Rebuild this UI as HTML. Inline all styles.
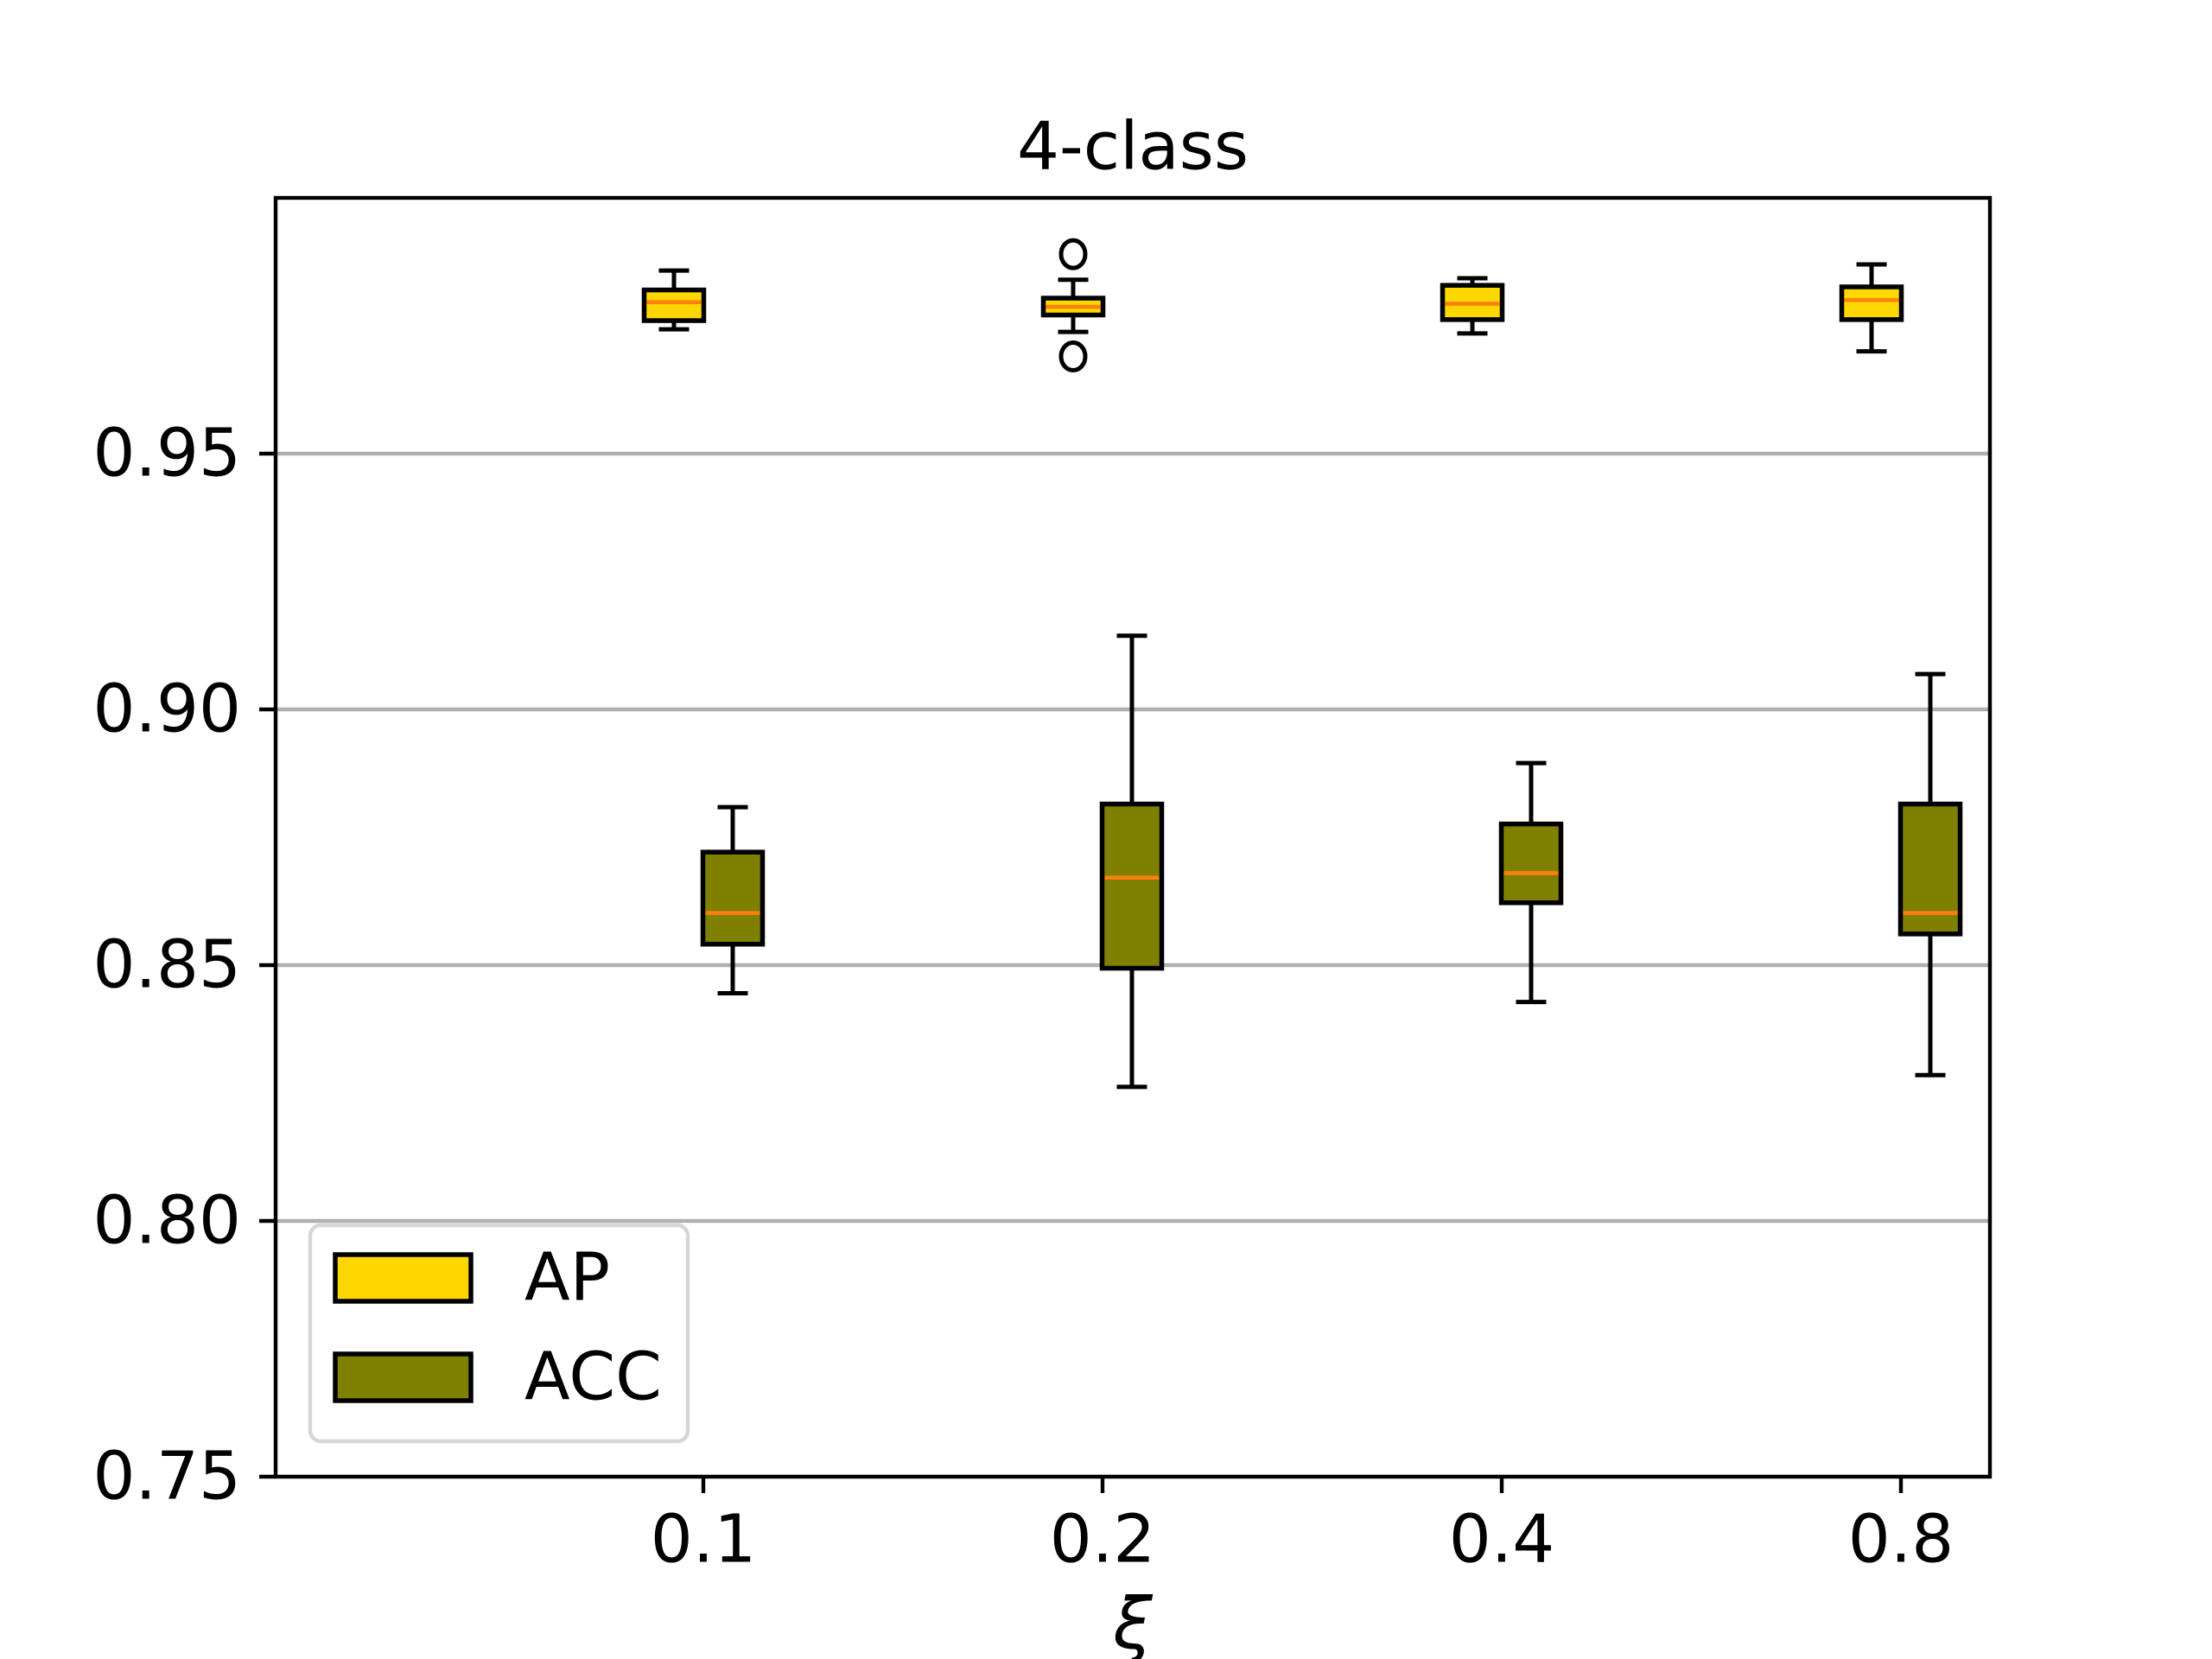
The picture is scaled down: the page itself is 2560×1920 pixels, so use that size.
<!DOCTYPE html>
<html><head><meta charset="utf-8"><style>
html,body{margin:0;padding:0;background:#fff;}
svg{display:block;font-family:"DejaVu Sans","Liberation Sans",sans-serif;}
</style></head><body>
<svg id="chart" width="2560" height="1920" viewBox="0 0 2560 1920" xmlns="http://www.w3.org/2000/svg">
<rect width="2560" height="1920" fill="#fff"/>
<text x="1311" y="170" font-size="77" text-anchor="middle" dominant-baseline="central">4-class</text>
<g id="grid"></g>
<g id="boxes"></g>
<rect x="319" y="229" width="1984" height="1480" fill="none" stroke="#000" stroke-width="4.4"/>
<g id="ticks"></g>
<text x="1311" y="1880" font-size="82" font-style="italic" text-anchor="middle" dominant-baseline="central">ξ</text>
<g>
<rect x="359" y="1418" width="437" height="250" rx="12" fill="#fff" fill-opacity="0.8" stroke="#d6d6d6" stroke-width="4.4"/>
<rect x="388" y="1452" width="157" height="54" fill="#ffd700" stroke="#000" stroke-width="5.5"/>
<text x="607" y="1479" font-size="77" dominant-baseline="central">AP</text>
<rect x="388" y="1567" width="157" height="54" fill="#808000" stroke="#000" stroke-width="5.5"/>
<text x="607" y="1594" font-size="77" dominant-baseline="central">ACC</text>
</g>
</svg>
<script>
const categories = ["0.1", "0.2", "0.4", "0.8"];
const yTicks = [0.75, 0.80, 0.85, 0.90, 0.95];
const yTickLabels = ["0.75", "0.80", "0.85", "0.90", "0.95"];
// AP: [whislo, q1, med, q3, whishi]
const apWhisLo = [0.9743, 0.9738, 0.9735, 0.9700];
const apQ1 = [0.9760, 0.9771, 0.9762, 0.9762];
const apMed = [0.9796, 0.9787, 0.9793, 0.9800];
const apQ3 = [0.9820, 0.9804, 0.9829, 0.9826];
const apWhisHi = [0.9858, 0.9840, 0.9843, 0.9870];
const apOutliers = [[], [0.989, 0.969], [], []];
const accWhisLo = [0.8445, 0.8262, 0.8428, 0.8285];
const accQ1 = [0.8541, 0.8494, 0.8622, 0.8561];
const accMed = [0.8602, 0.8671, 0.8680, 0.8602];
const accQ3 = [0.8721, 0.8815, 0.8776, 0.8815];
const accWhisHi = [0.8809, 0.9144, 0.8895, 0.9069];

const NS = "http://www.w3.org/2000/svg";
const L = 319, R = 2303, T = 229, B = 1709;
const yMin = 0.75, yMax = 1.0;
function yPos(v){ return B - (v - yMin) / (yMax - yMin) * (B - T); }
function xPos(i){ return 814 + i * 462; }
function mk(tag, attrs, parent){
  const e = document.createElementNS(NS, tag);
  for (const k in attrs) e.setAttribute(k, attrs[k]);
  parent.appendChild(e);
  return e;
}
const grid = document.getElementById('grid');
const ticks = document.getElementById('ticks');
const boxes = document.getElementById('boxes');
yTicks.forEach((v, i) => {
  const y = yPos(v);
  const g = mk('line', {x1: L, x2: R, y1: y, y2: y, stroke: '#b0b0b0', 'stroke-width': 4.4}, grid);
  
  
  const t = mk('line', {x1: L - 19, x2: L, y1: y, y2: y, stroke: '#000', 'stroke-width': 4.4}, ticks);
  
  
  const tx = mk('text', {x: L - 40, y: y, 'font-size': 77, 'text-anchor': 'end', 'dominant-baseline': 'central'}, ticks);
  tx.textContent = yTickLabels[i];
  
  
});
categories.forEach((c, i) => {
  const x = xPos(i);
  const t = mk('line', {x1: x, x2: x, y1: B, y2: B + 19, stroke: '#000', 'stroke-width': 4.4}, ticks);
  
  
  const tx = mk('text', {x: x, y: 1782, 'font-size': 77, 'text-anchor': 'middle', 'dominant-baseline': 'central'}, ticks);
  tx.textContent = c;
  
  
});
function drawBox(cx, lo, q1, med, q3, hi, fill, name, outs){
  const g = mk('g', {}, boxes);
  
  
  const w = 69, cw = 35;
  mk('line', {x1: cx, x2: cx, y1: yPos(q3), y2: yPos(hi), stroke: '#000', 'stroke-width': 5}, g);
  mk('line', {x1: cx, x2: cx, y1: yPos(q1), y2: yPos(lo), stroke: '#000', 'stroke-width': 5}, g);
  mk('line', {x1: cx - cw / 2, x2: cx + cw / 2, y1: yPos(hi), y2: yPos(hi), stroke: '#000', 'stroke-width': 5}, g);
  mk('line', {x1: cx - cw / 2, x2: cx + cw / 2, y1: yPos(lo), y2: yPos(lo), stroke: '#000', 'stroke-width': 5}, g);
  mk('rect', {x: cx - w / 2, y: yPos(q3), width: w, height: yPos(q1) - yPos(q3), fill: fill, stroke: '#000', 'stroke-width': 5.5}, g);
  mk('line', {x1: cx - w / 2 + 3, x2: cx + w / 2 - 3, y1: yPos(med), y2: yPos(med), stroke: '#ff7f0e', 'stroke-width': 4.5}, g);
  outs.forEach(o => {
    const c = mk('ellipse', {cx: cx, cy: yPos(o), rx: 14, ry: 16, fill: 'none', stroke: '#000', 'stroke-width': 5}, g);
    
    
  });
}
categories.forEach((c, i) => {
  drawBox(xPos(i) - 34, apWhisLo[i], apQ1[i], apMed[i], apQ3[i], apWhisHi[i], '#ffd700', 'ap-box-' + c, apOutliers[i]);
  drawBox(xPos(i) + 34, accWhisLo[i], accQ1[i], accMed[i], accQ3[i], accWhisHi[i], '#808000', 'acc-box-' + c, []);
});
</script>
</body></html>
